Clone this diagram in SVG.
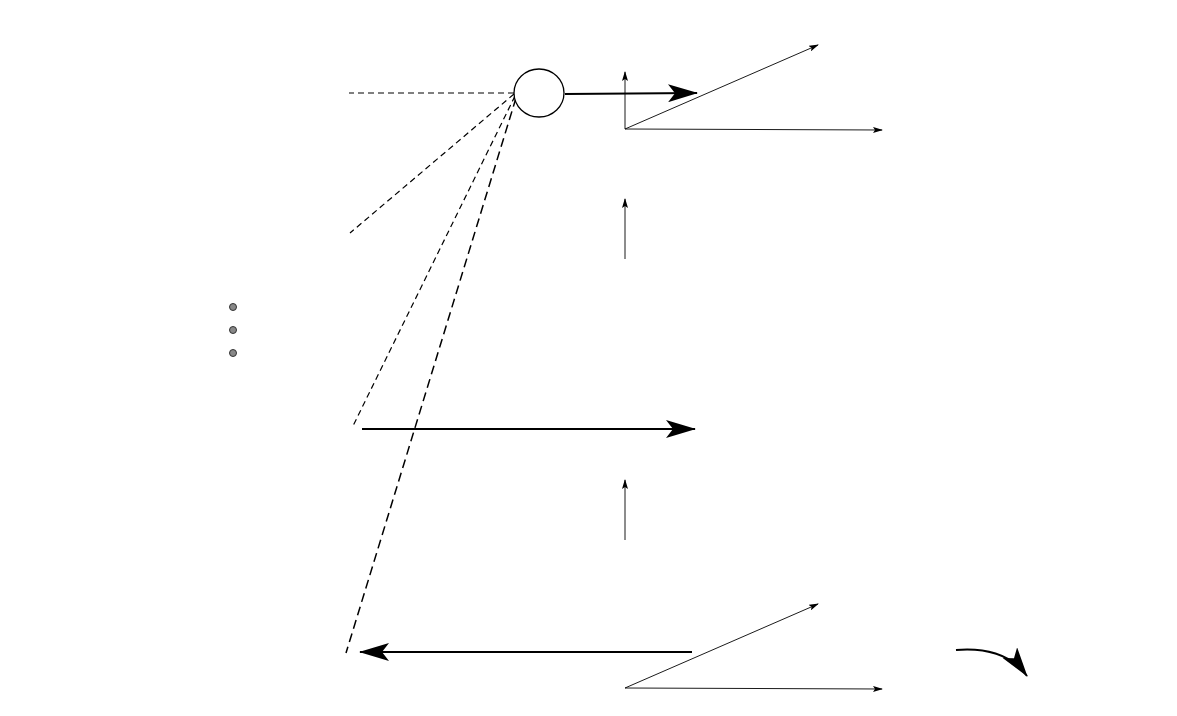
<svg xmlns="http://www.w3.org/2000/svg" width="1177" height="716" viewBox="0 0 1177 716">
<style>
.d{fill:none;stroke:#000;stroke-width:1.2;stroke-dasharray:6,4}
.t{fill:none;stroke:#000;stroke-width:0.9;marker-end:url(#sa)}
.k{fill:none;stroke:#000;stroke-width:2;marker-end:url(#ba)}
.dot{fill:#888;stroke:#333;stroke-width:1}
</style>
<defs>
<marker id="sa" viewBox="0 0 10 6" refX="9" refY="3" markerWidth="10" markerHeight="6" markerUnits="userSpaceOnUse" orient="auto"><path d="M0,0L10,3L0,6L2,3z"/></marker>
<marker id="ba" viewBox="0 0 30 18" refX="29" refY="9" markerWidth="30" markerHeight="18" markerUnits="userSpaceOnUse" orient="auto"><path d="M0,0L30,9L0,18L7,9z"/></marker>
</defs>
<g id="connectors">
<line class="d" x1="514" y1="93" x2="349" y2="93"/>
<line class="d" x1="514" y1="94" x2="350" y2="233"/>
<line class="d" x1="515" y1="96" x2="352" y2="428"/>
<line class="d" x1="516" y1="98" x2="346" y2="653" style="stroke-width:1.5;stroke-dasharray:9,5"/>
<line class="k" x1="565" y1="94" x2="697" y2="93"/>
<line class="t" x1="625" y1="129" x2="625" y2="72"/>
<line class="t" x1="625" y1="129" x2="818" y2="45"/>
<line class="t" x1="625" y1="129" x2="882" y2="130"/>
<line class="t" x1="625" y1="259" x2="625" y2="199"/>
<line class="k" x1="362" y1="429" x2="695" y2="429"/>
<line class="t" x1="625" y1="540" x2="625" y2="480"/>
<line class="k" x1="692" y1="652" x2="360" y2="652"/>
<line class="t" x1="625" y1="688" x2="818" y2="604"/>
<line class="t" x1="625" y1="688" x2="882" y2="689"/>
<path class="k" d="M956,650 Q1005,646 1027,676"/>
</g>
<g id="node"><ellipse cx="539" cy="93" rx="25" ry="24" fill="#fff" stroke="#000" stroke-width="1.3"/></g>
<g id="dots">
<circle class="dot" cx="233" cy="307" r="3.5"/>
<circle class="dot" cx="233" cy="330" r="3.5"/>
<circle class="dot" cx="233" cy="353" r="3.5"/>
</g>
</svg>
